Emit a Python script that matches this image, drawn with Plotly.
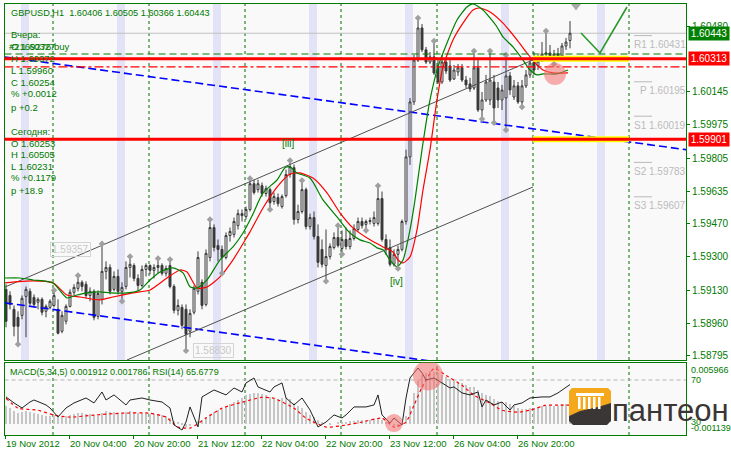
import plotly.graph_objects as go

W, H = 731, 455
GREEN = "#007A00"
FONT = "Liberation Sans"

# ---------------- price data (GBPUSD H1, bar index 0..141) ----------------
opens = [1.59134,1.59103,1.59032,1.58991,1.59001,1.59098,1.59124,1.59093,1.59068,1.59083,
1.59022,1.59042,1.59052,1.59032,1.58920,1.58971,1.59047,1.59119,1.59139,1.59170,
1.59160,1.59103,1.59124,1.58996,1.59083,1.59226,1.59246,1.59134,1.59200,1.59124,
1.59149,1.59246,1.59256,1.59190,1.59154,1.59236,1.59256,1.59231,1.59246,1.59256,
1.59216,1.59256,1.59149,1.59027,1.59042,1.59032,1.58920,1.59017,1.59124,1.59170,
1.59057,1.59297,1.59450,1.59358,1.59338,1.59297,1.59409,1.59415,1.59460,1.59521,
1.59506,1.59542,1.59674,1.59644,1.59664,1.59624,1.59644,1.59583,1.59603,1.59557,
1.59613,1.59721,1.59756,1.59491,1.59532,1.59644,1.59455,1.59501,1.59404,1.59338,
1.59256,1.59302,1.59348,1.59399,1.59343,1.59389,1.59353,1.59394,1.59440,1.59481,
1.59466,1.59481,1.59471,1.59471,1.59598,1.59389,1.59348,1.59262,1.59313,1.59338,
1.59481,1.59811,1.60092,1.60306,1.60470,1.60358,1.60296,1.60322,1.60276,1.60194,
1.60296,1.60276,1.60209,1.60245,1.60266,1.60204,1.60184,1.60163,1.60266,1.60051,
1.60102,1.60102,1.60194,1.60163,1.60102,1.60112,1.60225,1.60117,1.60174,1.60092,
1.60174,1.60230,1.60296,1.60276,1.60301,1.60337,1.60342,1.60327,1.60337,1.60327,
1.60378,1.60406]
highs = [1.59160,1.59124,1.59052,1.59022,1.59103,1.59149,1.59139,1.59108,1.59093,1.59093,
1.59057,1.59083,1.59119,1.59083,1.59022,1.59057,1.59134,1.59160,1.59195,1.59180,
1.59175,1.59144,1.59134,1.59129,1.59357,1.59277,1.59262,1.59226,1.59236,1.59170,
1.59277,1.59292,1.59267,1.59211,1.59256,1.59267,1.59262,1.59262,1.59282,1.59267,
1.59256,1.59277,1.59160,1.59083,1.59057,1.59057,1.59032,1.59154,1.59328,1.59185,
1.59338,1.59481,1.59466,1.59389,1.59358,1.59425,1.59450,1.59501,1.59542,1.59542,
1.59557,1.59690,1.59695,1.59695,1.59680,1.59664,1.59654,1.59629,1.59624,1.59619,
1.59746,1.59782,1.59772,1.59567,1.59680,1.59654,1.59521,1.59532,1.59466,1.59389,
1.59440,1.59369,1.59425,1.59450,1.59435,1.59450,1.59435,1.59466,1.59501,1.59501,
1.59491,1.59501,1.59532,1.59654,1.59634,1.59415,1.59389,1.59338,1.59358,1.59491,
1.59848,1.60112,1.60332,1.60511,1.60490,1.60373,1.60347,1.60393,1.60306,1.60332,
1.60317,1.60306,1.60281,1.60286,1.60286,1.60225,1.60215,1.60342,1.60306,1.60143,
1.60230,1.60342,1.60230,1.60194,1.60179,1.60322,1.60245,1.60204,1.60194,1.60204,
1.60255,1.60317,1.60347,1.60332,1.60398,1.60444,1.60383,1.60358,1.60368,1.60393,
1.60419,1.60505]
lows = [1.58940,1.59032,1.58894,1.58864,1.58981,1.58889,1.59052,1.59042,1.59032,1.59001,
1.58991,1.59032,1.59042,1.58904,1.58910,1.58955,1.59042,1.59103,1.59124,1.59124,
1.59088,1.59073,1.58976,1.58981,1.59057,1.59185,1.59108,1.59124,1.59108,1.59083,
1.59134,1.59195,1.59175,1.59129,1.59144,1.59200,1.59211,1.59190,1.59216,1.59205,
1.59200,1.59139,1.59011,1.59001,1.58930,1.58830,1.58889,1.59006,1.59108,1.59032,
1.59047,1.59277,1.59328,1.59277,1.59226,1.59287,1.59378,1.59399,1.59440,1.59481,
1.59491,1.59532,1.59619,1.59629,1.59608,1.59608,1.59552,1.59567,1.59557,1.59547,
1.59603,1.59705,1.59465,1.59471,1.59521,1.59440,1.59440,1.59389,1.59246,1.59246,
1.59185,1.59287,1.59338,1.59348,1.59323,1.59338,1.59338,1.59384,1.59430,1.59445,
1.59445,1.59466,1.59455,1.59460,1.59378,1.59310,1.59251,1.59251,1.59251,1.59328,
1.59465,1.59770,1.60076,1.60296,1.60347,1.60286,1.60286,1.60230,1.60184,1.60184,
1.60235,1.60194,1.60204,1.60225,1.60194,1.60163,1.60143,1.60153,1.60041,1.60015,
1.60092,1.60076,1.59995,1.60061,1.60051,1.59959,1.60128,1.60102,1.60082,1.60076,
1.60163,1.60215,1.60230,1.60255,1.60296,1.60306,1.60306,1.60296,1.60306,1.60317,
1.60358,1.60366]
closes = [1.58971,1.59057,1.58945,1.58945,1.59088,1.59134,1.59063,1.59057,1.59083,1.59017,
1.59047,1.59073,1.59103,1.58910,1.59001,1.59047,1.59119,1.59144,1.59170,1.59149,
1.59103,1.59124,1.58991,1.59113,1.59226,1.59246,1.59124,1.59200,1.59124,1.59144,
1.59246,1.59262,1.59190,1.59154,1.59236,1.59256,1.59231,1.59246,1.59256,1.59216,
1.59241,1.59149,1.59027,1.59052,1.58950,1.58904,1.59011,1.59139,1.59297,1.59052,
1.59318,1.59450,1.59348,1.59338,1.59297,1.59409,1.59430,1.59481,1.59521,1.59511,
1.59542,1.59674,1.59629,1.59674,1.59624,1.59649,1.59577,1.59608,1.59572,1.59608,
1.59721,1.59761,1.59491,1.59532,1.59644,1.59455,1.59501,1.59404,1.59272,1.59262,
1.59302,1.59353,1.59399,1.59358,1.59389,1.59353,1.59394,1.59445,1.59481,1.59460,
1.59481,1.59486,1.59501,1.59598,1.59389,1.59338,1.59262,1.59313,1.59338,1.59481,
1.59811,1.60092,1.60306,1.60470,1.60358,1.60296,1.60322,1.60240,1.60194,1.60296,
1.60250,1.60204,1.60255,1.60266,1.60204,1.60179,1.60158,1.60266,1.60051,1.60102,
1.60194,1.60204,1.60061,1.60102,1.60153,1.60225,1.60153,1.60174,1.60092,1.60174,
1.60230,1.60291,1.60255,1.60301,1.60337,1.60342,1.60327,1.60337,1.60327,1.60378,
1.60398,1.60443]
bars = list(range(len(closes)))

# moving-average style lines (bar position, price)
ma_fast_x = [-0.25,3.5,6.75,11.75,15.25,17.75,20.25,23.5,26,30.25,33.5,36,38.5,41.75,44.25,46,47.75,50.25,
             53.5,56.75,59.25,61.5,64.25,67.75,69.75,71,72.75,76,79.25,82.75,86,88.5,91,92.75,94.25,96,
             97.75,99.25,101,102.25,104,106,108,110.25,112.75,115.25,116.75,119.25,122.75,124.25,126.75,
             129.25,131,132.75,134.25,137.75,140.5]
ma_fast_y = [1.59192,1.59192,1.59182,1.59167,1.59090,1.59105,1.59116,1.59121,1.59116,1.59116,1.59131,1.59182,
             1.59223,1.59244,1.59218,1.59147,1.59141,1.59182,1.59285,1.59351,1.59422,1.59509,1.59627,1.59693,
             1.59755,1.59760,1.59729,1.59703,1.59591,1.59504,1.59422,1.59387,1.59371,1.59346,1.59336,1.59284,
             1.59249,1.59284,1.59438,1.59591,1.59848,1.60102,1.60271,1.60393,1.60511,1.60577,1.60593,1.60562,
             1.60475,1.60424,1.60373,1.60306,1.60255,1.60230,1.60235,1.60235,1.60255]
ma_slow_x = [-0.25,6.75,11.75,15.25,18.5,23.5,26.75,31.75,36,40.25,43.5,45.25,47.75,50.25,53.5,56.75,60.25,
             61,64.25,67.75,71,73.5,76.75,80.25,83.5,86.75,91,94.25,96.75,98,99.25,101,102.75,104.25,106,
             107.75,109.25,111.75,114.25,116.75,118.5,121,124.25,127.75,130.25,132.75,134.25,136.75,140.5]
ma_slow_y = [1.59167,1.59177,1.59167,1.59105,1.59095,1.59080,1.59095,1.59116,1.59131,1.59192,1.59233,1.59223,
             1.59141,1.59146,1.59198,1.59285,1.59402,1.59428,1.59550,1.59657,1.59724,1.59729,1.59703,1.59627,
             1.59525,1.59448,1.59387,1.59351,1.59325,1.59284,1.59269,1.59300,1.59438,1.59642,1.59848,1.60102,
             1.60271,1.60409,1.60495,1.60562,1.60572,1.60552,1.60495,1.60409,1.60342,1.60281,1.60255,1.60240,
             1.60240]

# trend lines: (bar, price) anchors
blue_up_x, blue_up_y = [-0.25, 170], [1.60322, 1.59848]
blue_dn_x, blue_dn_y = [-0.25, 170], [1.59065, 1.58589]
chan_up_x, chan_up_y = [-0.25, 132.25], [1.59146, 1.60311]
chan_dn_x, chan_dn_y = [30.25, 131.75], [1.58773, 1.59657]
proj_x, proj_y = [143.75, 148.5, 155.25], [1.60444, 1.60342, 1.60577]

# horizontal levels
last_price = 1.60443
order_price = 1.60337
res_level = 1.60313
dashdot_level = 1.60271
sup_level = 1.59901
pivot_names = ["R1", "P", "S1", "S2", "S3"]
pivot_vals = [1.60431, 1.60195, 1.60019, 1.59783, 1.59607]

# fractals
frac_up = [12, 18, 24, 31, 38, 41, 51, 61, 71, 74, 83, 93, 103, 107, 117, 121, 125, 135]
frac_dn = [3, 29, 45, 54, 66, 80, 84, 90, 98, 119, 122, 125, 129, 137]

# session bands and grid (bar positions)
band_start = [3.75, 27.75, 51.75, 75.75, 99.75, 123.75, 147.75]
grid_x = [11.75, 35.75, 59.75, 83.75, 107.75, 131.75, 155.75]
price_ticks = [1.60480, 1.60145, 1.59975, 1.59805, 1.59635, 1.59470, 1.59300, 1.59130, 1.58960, 1.58795]
date_ticks = [-0.25, 15.75, 31.75, 47.75, 63.75, 79.75, 95.75, 111.75, 127.75]
date_labels = ["19 Nov 2012", "20 Nov 04:00", "20 Nov 20:00", "21 Nov 12:00", "22 Nov 04:00",
               "22 Nov 20:00", "23 Nov 12:00", "26 Nov 04:00", "26 Nov 20:00"]

# ---------------- indicator data ----------------
macd_hist = [0.0018,0.0016,0.0013,0.0011,0.0012,0.0013,0.0012,0.0011,0.0010,0.0009,
0.0008,0.0008,0.0009,0.0007,0.0007,0.0008,0.0009,0.0010,0.0011,0.0011,
0.0010,0.0010,0.0009,0.0008,0.0011,0.0013,0.0012,0.0012,0.0011,0.0011,
0.0012,0.0013,0.0012,0.0011,0.0011,0.0011,0.0010,0.0010,0.0010,0.0009,
0.0008,0.0006,0.0003,0.0001,-0.0001,-0.0003,-0.0002,0.0000,0.0003,0.0004,
0.0007,0.0010,0.0012,0.0014,0.0015,0.0017,0.0019,0.0021,0.0023,0.0025,
0.0028,0.0029,0.0030,0.0030,0.0029,0.0028,0.0026,0.0025,0.0024,0.0025,
0.0025,0.0024,0.0020,0.0018,0.0016,0.0012,0.0009,0.0007,0.0004,0.0001,
0.0000,-0.0001,0.0000,0.0001,0.0002,0.0002,0.0003,0.0003,0.0004,0.0004,
0.0004,0.0004,0.0005,0.0006,0.0004,0.0002,0.0000,-0.0002,-0.0003,-0.0001,
0.0008,0.0018,0.0030,0.0042,0.0048,0.0050,0.0052,0.0051,0.0050,0.0048,
0.0046,0.0044,0.0043,0.0041,0.0040,0.0038,0.0036,0.0036,0.0033,0.0030,
0.0028,0.0027,0.0024,0.0022,0.0021,0.0021,0.0019,0.0018,0.0016,0.0015,
0.0015,0.0016,0.0016,0.0017,0.0018,0.0018,0.0018,0.0018,0.0018,0.0019,
0.0019,0.001912]
sig_x = [0,3,8,12,16,22,29,36,40,43,46,50,54,59,64,67,72,75,80,85,89,94,97,100,102,104,107,110,114,117,
         121,124,128,131,135,138,141]
sig_v = [0.00246,0.00149,0.00129,0.00081,0.00061,0.00081,0.00100,0.00100,0.00061,-0.00036,
         -0.00046,0.00052,0.00149,0.00207,0.00256,0.00246,0.00149,0.00052,-0.00036,-0.00017,
         0.00013,0.00052,-0.00036,0.00013,0.00178,0.00353,0.00538,0.00470,0.00373,0.00275,
         0.00198,0.00129,0.00110,0.00129,0.00178,0.00178,0.001786]
rsi_x = [0,2,4,6,7,10,11,13,15,17,20,22,24,25,27,30,31,34,36,39,41,42,44,45,46,48,49,52,55,57,
         59,60,62,63,66,67,69,70,72,74,76,78,80,82,84,85,87,90,92,93,94,96,97,99,100,101,103,104,105,107,
         109,111,112,114,116,118,119,120,122,124,126,127,129,131,134,136,138,141]
rsi_v = [53.9,48.2,43.4,49.1,51.0,46.3,43.4,34.9,43.4,48.2,52.9,48.2,58.6,51.0,55.8,46.3,51.0,52.9,51.0,49.1,
         43.4,27.3,22.5,30.1,44.4,25.4,53.9,60.5,55.8,62.4,58.6,67.2,71.9,63.4,58.6,63.4,67.2,52.9,46.3,52.9,
         41.5,25.4,30.1,36.8,33.9,36.8,44.4,44.4,46.3,55.8,36.8,29.2,33.9,27.3,52.9,71.9,81.4,76.7,70.0,71.9,
         67.2,62.4,63.4,57.7,55.8,58.6,44.4,51.0,46.3,49.1,41.5,46.3,48.2,52.9,53.9,53.9,57.7,65.68]

# ---------------- geometry helpers ----------------
def px(x):
    return x / W

def py(y):
    return 1 - y / H

X0, X1 = px(4.5), px(686)
XR = [-0.375, 170]

fig = go.Figure()

# candles
fig.add_trace(go.Candlestick(
    x=bars, open=opens, high=highs, low=lows, close=closes,
    increasing=dict(line=dict(color="#3A3A3A", width=1), fillcolor="#FFFFFF"),
    decreasing=dict(line=dict(color="#3A3A3A", width=1), fillcolor="#3A3A3A"),
    whiskerwidth=0, hoverinfo="skip", showlegend=False, xaxis="x", yaxis="y"))

# channels and trend lines
fig.add_trace(go.Scatter(x=blue_up_x, y=blue_up_y, mode="lines",
                         line=dict(color="#0000FF", width=1.6, dash="8px,4px"), hoverinfo="skip"))
fig.add_trace(go.Scatter(x=blue_dn_x, y=blue_dn_y, mode="lines",
                         line=dict(color="#0000FF", width=1.6, dash="8px,4px"), hoverinfo="skip"))
fig.add_trace(go.Scatter(x=chan_up_x, y=chan_up_y, mode="lines",
                         line=dict(color="#505050", width=1), hoverinfo="skip"))
fig.add_trace(go.Scatter(x=chan_dn_x, y=chan_dn_y, mode="lines",
                         line=dict(color="#505050", width=1), hoverinfo="skip"))

# moving averages
fig.add_trace(go.Scatter(x=ma_slow_x, y=ma_slow_y, mode="lines",
                         line=dict(color="#FF0000", width=1.2, shape="spline", smoothing=0.6), hoverinfo="skip"))
fig.add_trace(go.Scatter(x=ma_fast_x, y=ma_fast_y, mode="lines",
                         line=dict(color="#008000", width=1.2, shape="spline", smoothing=0.6), hoverinfo="skip"))

# fractals
fig.add_trace(go.Scatter(x=frac_up, y=[highs[i] + 0.00010 for i in frac_up], mode="markers",
                         marker=dict(symbol="diamond", size=5, color="#A0A0A0"), hoverinfo="skip"))
fig.add_trace(go.Scatter(x=frac_dn, y=[lows[i] - 0.00010 for i in frac_dn], mode="markers",
                         marker=dict(symbol="diamond", size=5, color="#A0A0A0"), hoverinfo="skip"))
# forecast arrow
fig.add_trace(go.Scatter(x=[142.5], y=[1.60582], mode="markers",
                         marker=dict(symbol="triangle-down", size=9, color="#A8A8A8"), hoverinfo="skip"))
fig.add_trace(go.Scatter(x=proj_x, y=proj_y, mode="lines",
                         line=dict(color="#2A9A2A", width=1.6), hoverinfo="skip"))

# ---------------- indicator panel ----------------
fig.add_trace(go.Bar(x=bars, y=macd_hist, width=0.26, marker=dict(color="#C6C6C6", line=dict(width=0)),
                     xaxis="x2", yaxis="y2", hoverinfo="skip"))
fig.add_trace(go.Scatter(x=sig_x, y=sig_v, mode="lines", xaxis="x2", yaxis="y2",
                         line=dict(color="#FF0000", width=1.2, dash="dot", shape="spline", smoothing=0.5),
                         hoverinfo="skip"))
fig.add_trace(go.Scatter(x=rsi_x, y=rsi_v, mode="lines", xaxis="x2", yaxis="y3",
                         line=dict(color="#202020", width=1), hoverinfo="skip"))

shapes = []
for b in band_start:
    shapes.append(dict(type="rect", xref="x", yref="y domain", x0=b, x1=b + 2, y0=0, y1=1,
                       fillcolor="#E3E3F7", line=dict(width=0), layer="below"))
# dashed vertical grid in both panels
for g in grid_x:
    for xr, yr in (("x", "y domain"), ("x2", "y2 domain")):
        shapes.append(dict(type="line", xref=xr, yref=yr, x0=g, x1=g, y0=0, y1=1,
                           line=dict(color="#007000", width=1, dash="3px,3px"), layer="below"))
# level lines
shapes.append(dict(type="line", xref="x domain", yref="y", x0=0, x1=1, y0=last_price, y1=last_price,
                   line=dict(color="#C0C0C0", width=1), layer="below"))
shapes.append(dict(type="line", xref="x domain", yref="y", x0=0, x1=1, y0=order_price, y1=order_price,
                   line=dict(color="#008000", width=1.2, dash="7px,4px"), layer="above"))
shapes.append(dict(type="line", xref="x domain", yref="y", x0=0, x1=1, y0=dashdot_level, y1=dashdot_level,
                   line=dict(color="#FF0000", width=1.2, dash="dashdot"), layer="above"))
for lv in (res_level, sup_level):
    shapes.append(dict(type="line", xref="x", yref="y", x0=grid_x[5], x1=grid_x[6], y0=lv, y1=lv,
                       line=dict(color="#FFFF00", width=6), layer="above"))
    shapes.append(dict(type="line", xref="x domain", yref="y", x0=0, x1=1, y0=lv, y1=lv,
                       line=dict(color="#FF0000", width=3), layer="above"))
for v in pivot_vals:
    shapes.append(dict(type="line", xref="x", yref="y", x0=157.0, x1=161.5, y0=v, y1=v,
                       line=dict(color="#B8B8B8", width=1), layer="above"))
# highlight circles
shapes.append(dict(type="circle", xref="x", yref="y", xsizemode="pixel", ysizemode="pixel",
                   xanchor=137.25, yanchor=1.60235, x0=-11, x1=11, y0=-11, y1=11,
                   fillcolor="rgba(245,110,110,0.55)", line=dict(width=0), layer="above"))
shapes.append(dict(type="circle", xref="x2", yref="y2", xsizemode="pixel", ysizemode="pixel",
                   xanchor=105.5, yanchor=0.00470, x0=-15, x1=15, y0=-15, y1=15,
                   fillcolor="rgba(245,110,110,0.55)", line=dict(width=0), layer="above"))
shapes.append(dict(type="circle", xref="x2", yref="y2", xsizemode="pixel", ysizemode="pixel",
                   xanchor=97.0, yanchor=0.00003, x0=-9, x1=9, y0=-9, y1=9,
                   fillcolor="rgba(245,110,110,0.55)", line=dict(width=0), layer="above"))
# RSI 70 level
shapes.append(dict(type="line", xref="x2 domain", yref="y3", x0=0, x1=1, y0=70, y1=70,
                   line=dict(color="#B4B4B4", width=1, dash="4px,3px"), layer="below"))

# logo (pixel-designed decoration)
def path(points, close=True):
    s = "M " + " L ".join(f"{px(x):.5f},{py(y):.5f}" for x, y in points)
    return s + (" Z" if close else "")

shapes.append(dict(type="path", xref="paper", yref="paper",
                   path=path([(572, 388), (608, 388), (611, 391), (611, 404), (600, 408), (580, 412),
                              (569, 416), (569, 391)]),
                   fillcolor="#F6A81C", line=dict(width=0), layer="above"))
shapes.append(dict(type="path", xref="paper", yref="paper",
                   path=path([(569, 416), (580, 411), (598, 407), (611, 403), (611, 421), (607, 425),
                              (573, 425), (569, 421)]),
                   fillcolor="#3A3636", line=dict(width=0), layer="above"))
shapes.append(dict(type="rect", xref="paper", yref="paper", x0=px(576), x1=px(604), y0=py(396), y1=py(393),
                   fillcolor="#FFFFFF", line=dict(width=0), layer="above"))
for cx in (578, 583, 588, 593, 598):
    shapes.append(dict(type="rect", xref="paper", yref="paper", x0=px(cx), x1=px(cx + 2.5),
                       y0=py(409), y1=py(397), fillcolor="#FFFFFF", line=dict(width=0), layer="above"))

annotations = []

def txt(x, y, s, color=GREEN, size=9.2, anchor="left"):
    annotations.append(dict(x=px(x), y=py(y), xref="paper", yref="paper", text=s, showarrow=False,
                            xanchor=anchor, yanchor="middle", font=dict(family=FONT, size=size, color=color)))

txt(9, 13, "GBPUSD,H1  1.60406 1.60505 1.60366 1.60443")
info_lines = [(35, "Вчера:"), (47, "O 1.60327"), (59, "H 1.60372"), (70, "L 1.59960"), (82, "C 1.60254"),
              (94, "% +0.0012"), (107, "p +0.2"), (131, "Сегодня:"), (143, "O 1.60253"), (154, "H 1.60505"),
              (166, "L 1.60231"), (178, "% +0.1179"), (190, "p +18.9")]
for y, s in info_lines:
    txt(9, y, s, size=9.5)
txt(7, 47, "#2169276 buy", size=9.5)
txt(8, 372, "MACD(5,34,5) 0.001912 0.001786  RSI(14) 65.6779", size=9)

# pivot labels
for n, v in zip(pivot_names, pivot_vals):
    annotations.append(dict(x=px(688), y=v, xref="paper", yref="y", text=f"{n} {v:.5f}", showarrow=False,
                            xanchor="right", yanchor="middle", yshift=-9,
                            font=dict(family=FONT, size=10, color="#BBBBBB")))

# price boxes on the right axis
for v, col in ((last_price, "#008000"), (res_level, "#FF0000"), (sup_level, "#FF0000")):
    annotations.append(dict(x=px(688), y=v, xref="paper", yref="y", text=f"{v:.5f}", showarrow=False,
                            xanchor="left", yanchor="middle", bgcolor=col, borderpad=1, width=38,
                            font=dict(family=FONT, size=10, color="#FFFFFF")))

# price labels of the extremes
annotations.append(dict(x=16, y=1.59338, xref="x", yref="y", text="1.59357", showarrow=False,
                        bordercolor="#D4D4D4", borderwidth=1, borderpad=1,
                        font=dict(family=FONT, size=10, color="#C8C8C8")))
annotations.append(dict(x=51.75, y=1.58824, xref="x", yref="y", text="1.58830", showarrow=False,
                        bordercolor="#D4D4D4", borderwidth=1, borderpad=1,
                        font=dict(family=FONT, size=10, color="#C8C8C8")))
# wave labels
annotations.append(dict(x=70.5, y=1.59882, xref="x", yref="y", text="[iii]", showarrow=False,
                        font=dict(family=FONT, size=10, color=GREEN)))
annotations.append(dict(x=97.5, y=1.59172, xref="x", yref="y", text="[iv]", showarrow=False,
                        font=dict(family=FONT, size=10, color=GREEN)))

# indicator scale labels
annotations.append(dict(x=px(689), y=0.005966, xref="paper", yref="y2", text="0.005966", showarrow=False,
                        xanchor="left", yanchor="top", font=dict(family=FONT, size=9, color=GREEN)))
annotations.append(dict(x=px(689), y=-0.001139, xref="paper", yref="y2", text="-0.001139", showarrow=False,
                        xanchor="left", yanchor="bottom", font=dict(family=FONT, size=9, color=GREEN)))
for lv in (70, 30):
    annotations.append(dict(x=px(689), y=lv, xref="paper", yref="y3", text=str(lv), showarrow=False,
                            xanchor="left", yanchor="middle", font=dict(family=FONT, size=9, color=GREEN)))

# logo text
annotations.append(dict(x=px(610), y=py(410), xref="paper", yref="paper", text="пантеон", showarrow=False,
                        xanchor="left", yanchor="middle",
                        font=dict(family=FONT, size=31, color="#3A3636")))

fig.update_layout(
    width=W, height=H, margin=dict(l=0, r=0, t=0, b=0), autosize=False,
    paper_bgcolor="#FFFFFF", plot_bgcolor="#F9F9F9", showlegend=False, bargap=0,
    xaxis=dict(domain=[X0, X1], range=XR, anchor="y", showticklabels=False, ticks="", showgrid=False,
               zeroline=False, showline=True, mirror=True, linecolor=GREEN, linewidth=1,
               rangeslider=dict(visible=False)),
    yaxis=dict(domain=[py(360), py(3.5)], range=[1.58773, 1.60595], anchor="x", side="right",
               tickmode="array", tickvals=price_ticks, ticktext=[f"{v:.5f}" for v in price_ticks],
               ticks="outside", ticklen=3, tickcolor=GREEN, showgrid=False, zeroline=False,
               tickfont=dict(family=FONT, size=10, color=GREEN),
               showline=True, mirror=True, linecolor=GREEN, linewidth=1),
    xaxis2=dict(domain=[X0, X1], range=XR, anchor="y2", tickmode="array", tickvals=date_ticks,
                ticktext=date_labels, ticks="outside", ticklen=3, tickcolor=GREEN, tickangle=0,
                ticklabelposition="outside right", tickfont=dict(family=FONT, size=9.5, color=GREEN),
                showgrid=False, zeroline=False, showline=True, mirror=True, linecolor=GREEN, linewidth=1),
    yaxis2=dict(domain=[py(435), py(362.5)], range=[-0.001139, 0.005966], anchor="x2", side="right",
                showticklabels=False, ticks="", showgrid=False, zeroline=False,
                showline=True, mirror=True, linecolor=GREEN, linewidth=1),
    yaxis3=dict(domain=[py(435), py(362.5)], range=[17.75, 86.6], overlaying="y2", anchor="x2",
                visible=False),
    shapes=shapes, annotations=annotations,
)

fig.write_html("out.html", config={"displayModeBar": False},
               post_script="document.body.style.margin='0px';document.body.style.padding='0px';")
